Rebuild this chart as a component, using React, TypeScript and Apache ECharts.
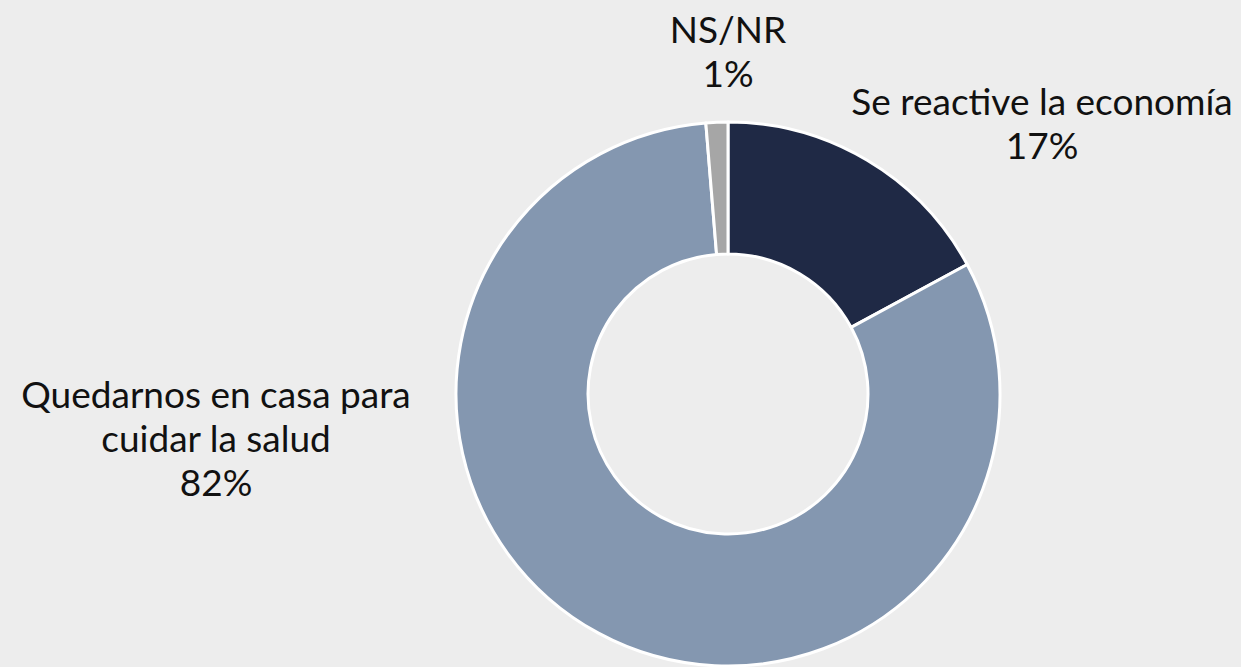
import React, { useEffect, useRef } from "react";
import * as echarts from "echarts";

const categories = ["Se reactive la economía", "Quedarnos en casa para\ncuidar la salud", "NS/NR"];
const values = [17.1, 81.6, 1.3];
const colors = ["#1f2945", "#8497b0", "#a6a6a6"];

const labelPos = [
  { x: 1042, y: 122 },
  { x: 216, y: 437 },
  { x: 728, y: 50 },
];

export default function App() {
  const ref = useRef<HTMLDivElement>(null);
  useEffect(() => {
    document.body.style.margin = "0";
    const chart = echarts.init(ref.current!, null, { renderer: "svg" });
    chart.setOption({
      animation: false,
      backgroundColor: "#ededed",
      series: [
        {
          type: "pie",
          center: [728, 394],
          radius: [140, 272],
          startAngle: 90,
          clockwise: true,
          itemStyle: { borderColor: "#ffffff", borderWidth: 3 },
          label: {
            show: true,
            position: "outside",
            formatter: (p: any) => `${p.name}\n${Math.round(p.value)}%`,
            fontFamily: "Lato",
            fontSize: 37,
            lineHeight: 44,
            color: "#111111",
            align: "center",
            overflow: "none",
            width: 600,
          },
          labelLine: { show: false },
          labelLayout: (params: any) => {
            const pos = labelPos[params.dataIndex];
            return { x: pos.x, y: pos.y, align: "center", verticalAlign: "middle" };
          },
          emphasis: { disabled: true },
          data: categories.map((name, i) => ({
            name,
            value: values[i],
            itemStyle: { color: colors[i] },
          })),
        },
      ],
    });
    return () => chart.dispose();
  }, []);
  return <div ref={ref} style={{ width: 1241, height: 667 }} />;
}
